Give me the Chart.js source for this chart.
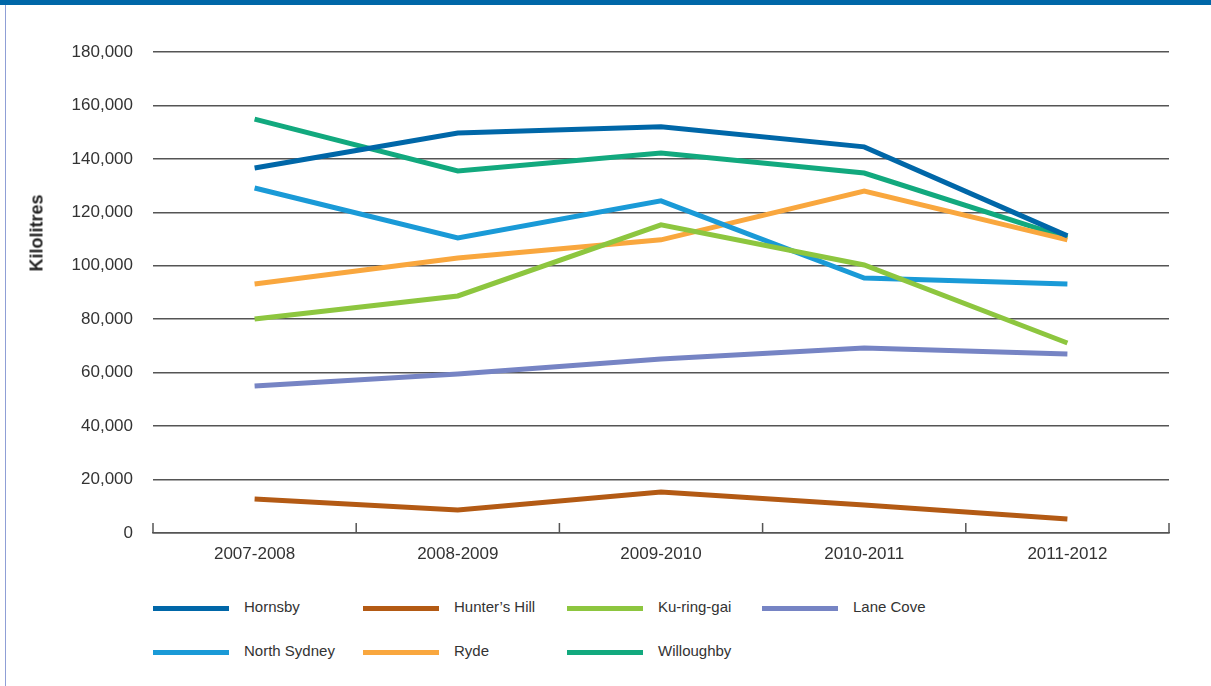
<!DOCTYPE html>
<html>
<head>
<meta charset="utf-8">
<script src="https://cdn.jsdelivr.net/npm/chart.js@4/dist/chart.umd.min.js"></script>
<style>
    html, body { margin: 0; padding: 0; background: #fff; }
    body { width: 1211px; height: 686px; position: relative; overflow: hidden; font-family: "Liberation Sans", Arial, sans-serif; }
    .topbar { position: absolute; left: 0; top: 0; width: 1211px; height: 5px; background: #0067a8; }
    .leftrule { position: absolute; left: 5px; top: 5px; width: 1px; height: 681px; background: #8f9fd6; }
    .chart-box { position: absolute; left: 0; top: 0; width: 1211px; height: 581px; }
    .ytitle { position: absolute; left: 37px; top: 233px; transform: translate(-50%, -50%) rotate(-90deg); font-weight: bold; font-size: 18px; color: #222; white-space: nowrap; }
    .legend-item { position: absolute; height: 20px; }
    .legend-item span.swatch { position: absolute; left: 0; top: 8px; width: 76px; height: 5px; }
    .legend-item span.label { position: absolute; left: 91px; top: 0px; font-size: 15px; color: #333; white-space: nowrap; }
</style>
</head>
<body>
<div class="topbar"></div>
<div class="leftrule"></div>
<div class="chart-box"><canvas id="chart"></canvas></div>
<div class="ytitle">Kilolitres</div>
<div id="legend"></div>

<script>
var years = ["2007-2008", "2008-2009", "2009-2010", "2010-2011", "2011-2012"];

var hornsby = [136600, 149700, 152000, 144500, 111200];
var huntersHill = [12700, 8600, 15300, 10500, 5200];
var kuringgai = [80100, 88700, 115300, 100300, 71100];
var laneCove = [55000, 59500, 65100, 69200, 67000];
var northSydney = [129100, 110400, 124300, 95400, 93200];
var ryde = [93200, 102900, 109700, 128000, 109700];
var willoughby = [154900, 135500, 142200, 134700, 110400];

var names = ["Hornsby", "Hunter\u2019s Hill", "Ku-ring-gai", "Lane Cove", "North Sydney", "Ryde", "Willoughby"];
var colors = ["#0067a8", "#b35a14", "#8dc63f", "#7684c4", "#1a9ad7", "#f9a73e", "#12a97e"];
var series = [hornsby, huntersHill, kuringgai, laneCove, northSydney, ryde, willoughby];

// short upward ticks on the x axis at the category boundaries
var xTicks = {
    id: 'xTicks',
    afterDraw: function (chart) {
        var x = chart.scales.x;
        var ctx = chart.ctx;
        var bottom = chart.chartArea.bottom;
        ctx.save();
        ctx.strokeStyle = '#555';
        ctx.lineWidth = 1.5;
        for (var i = 0; i <= years.length; i++) {
            var px = x.getPixelForValue(i - 0.5);
            ctx.beginPath();
            ctx.moveTo(px, bottom);
            ctx.lineTo(px, bottom - 10);
            ctx.stroke();
        }
        ctx.restore();
    }
};

var datasets = series.map(function (d, i) {
    return {
        label: names[i],
        data: d,
        borderColor: colors[i],
        backgroundColor: colors[i],
        borderWidth: 5,
        pointRadius: 0,
        tension: 0,
        fill: false
    };
});

Chart.defaults.font.family = '"Liberation Sans", Arial, sans-serif';
Chart.defaults.color = '#333';

var chart = new Chart(document.getElementById('chart'), {
    type: 'line',
    data: { labels: years, datasets: datasets },
    options: {
        responsive: true,
        maintainAspectRatio: false,
        animation: false,
        layout: { padding: { left: 0, right: 42, top: 52, bottom: 0 } },
        plugins: { legend: { display: false }, tooltip: { enabled: false } },
        scales: {
            x: {
                offset: true,
                grid: { display: false, drawTicks: false },
                border: { display: true, color: '#555', width: 1.5 },
                ticks: { padding: 11, font: { size: 17 }, color: '#333' },
                afterFit: function (scale) { scale.height = 48; }
            },
            y: {
                min: 0,
                max: 180000,
                grid: { color: '#555', lineWidth: 1.5, drawTicks: false },
                border: { display: false },
                ticks: {
                    stepSize: 20000,
                    padding: 20,
                    font: { size: 17 },
                    color: '#333',
                    callback: function (v) { return v.toLocaleString('en-US'); }
                },
                afterFit: function (scale) { scale.width = 153; }
            }
        }
    },
    plugins: [xTicks]
});

// legend laid out in columns like the original
var legendCols = [153, 363, 567, 762];
var legendRows = [598, 642];
var legend = document.getElementById('legend');
chart.data.datasets.forEach(function (ds, i) {
    var item = document.createElement('div');
    item.className = 'legend-item';
    item.style.left = legendCols[i % 4] + 'px';
    item.style.top = legendRows[Math.floor(i / 4)] + 'px';
    item.innerHTML = '<span class="swatch" style="background:' + ds.borderColor + '"></span><span class="label">' + ds.label + '</span>';
    legend.appendChild(item);
});
</script>
</body>
</html>
